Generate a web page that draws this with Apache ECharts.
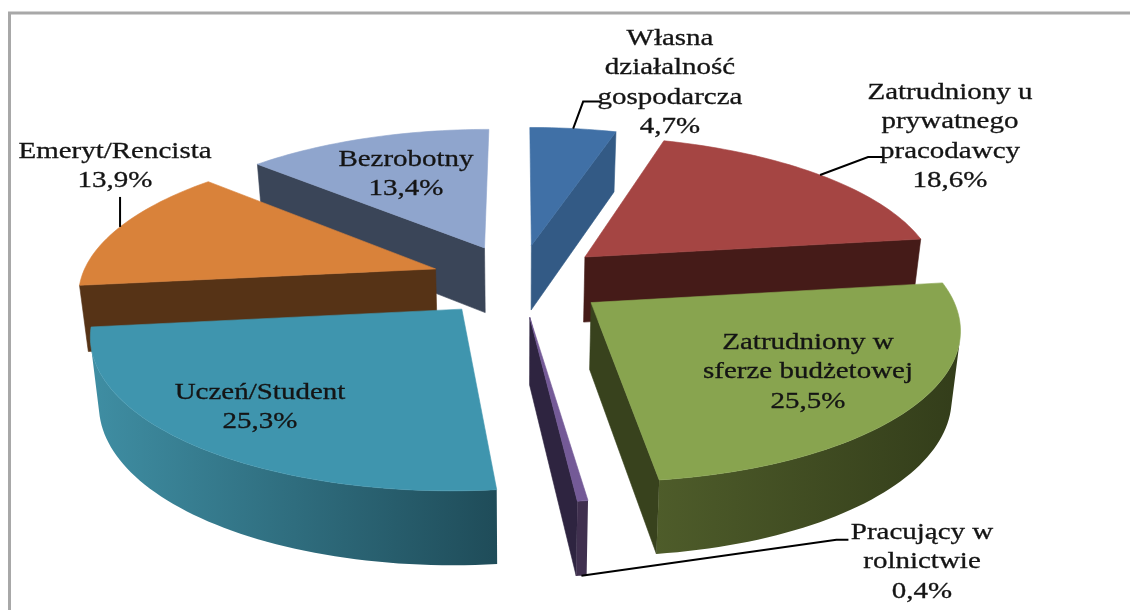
<!DOCTYPE html>
<html><head><meta charset="utf-8">
<style>html,body{margin:0;padding:0;background:#fff}#c{width:1130px;height:610px}</style>
<script src="https://cdn.jsdelivr.net/npm/echarts@6/dist/echarts.min.js"></script>
</head><body><div id="c"></div>
<script>
// ---- data ----
const categories = ['Własna\ndziałalność\ngospodarcza','Zatrudniony u\nprywatnego\npracodawcy','Zatrudniony w\nsferze budżetowej','Pracujący w\nrolnictwie','Uczeń/Student','Emeryt/Rencista','Bezrobotny'];
const values = [4.7,18.6,25.5,0.4,25.3,13.9,13.4];

// ---- styling ----
const topColors  = ['#4070a6','#a54543','#88a44f','#745a97','#3f95ae','#d9823a','#8fa5cd'];
const sideColors = ['#335a85','#451b18','#38421d','#2e2440','#235260','#563316','#3a4558'];
const wallStops  = [['#335a85','#335a85'],['#451b18','#451b18'],['#4e5c2a','#333d1a'],['#40304f','#40304f'],['#3f8ea3','#1f4c59'],['#563316','#563316'],['#3a4558','#3a4558']];
const depthOrder = [0,6,1,5,3,2,4];
// label layout: centre x, first line y
const labelLayout = [[670,39],[950,93],[808,343],[922,533],[260,393],[115,152],[406,160]];
// leader: [slice index, fraction along rim, plane 0 top / 1 bottom, offsets of following vertices]
const leaders = [
  [0,0.5,0,[[10,-27],[28,-27]]],
  [1,0.5,0,[[48,-18],[64,-18]]],
  [3,0.5,1,[[255,-36],[267,-36]]],
  [5,0.5,0,[[0,-30]]]
];

// ---- projection ----
const CX=519, CY=280, A=355, B=145, P=0.149, EXPL=0.25;
const DEPTH=66, DK=1.04, BX=0.98, LH=29.3, FS=23, SX=1.26, MIN_FACE=800;
function proj(X,Y,plane){
  const w=1-P*Y, sx=A*X/w, sy=B*Y/w;
  if(!plane) return [CX+sx,CY+sy];
  return [CX+sx*BX,CY+sy*DK+DEPTH];
}
const total=values.reduce((a,b)=>a+b,0);
let run=0;
const rows=values.map(v=>{const s=run/total;run+=v;return [v,s,run/total];});
function rimPoint(t0,t1,f,plane){
  const mid=(t0+t1)*Math.PI, th=(t0+(t1-t0)*f)*2*Math.PI;
  return proj(EXPL*Math.sin(mid)+Math.sin(th),-EXPL*Math.cos(mid)-Math.cos(th),plane);
}
function apex(t0,t1,plane){
  const mid=(t0+t1)*Math.PI;
  return proj(EXPL*Math.sin(mid),-EXPL*Math.cos(mid),plane);
}
function area(q){let s=0;for(let i=0;i<q.length;i++){const a=q[i],b=q[(i+1)%q.length];s+=a[0]*b[1]-b[0]*a[1];}return s/2;}
function poly(points,fill,z2){return {type:'polygon',z2,shape:{points},style:{fill,stroke:fill,lineWidth:0.6}};}

function renderItem(params,api){
  const i=params.dataIndex, t0=api.value(1), t1=api.value(2), v=api.value(0);
  const rank=depthOrder.indexOf(i)*10, n=Math.max(4,Math.ceil((t1-t0)*240));
  const top=[],bot=[];
  for(let k=0;k<=n;k++){top.push(rimPoint(t0,t1,k/n,0));bot.push(rimPoint(t0,t1,k/n,1));}
  const aT=apex(t0,t1,0), aB=apex(t0,t1,1), ch=[];
  const startF=[aT,top[0],bot[0],aB], endF=[aT,top[n],bot[n],aB];
  if(area(startF)<-MIN_FACE) ch.push(poly(startF,sideColors[i],rank));
  if(area(endF)>MIN_FACE) ch.push(poly(endF,sideColors[i],rank));
  let first=-1,last=-1;
  for(let k=0;k<n;k++){
    if(area([top[k],top[k+1],bot[k+1],bot[k]])<0){if(first<0)first=k;last=k+1;}
  }
  if(first>=0){
    const pts=top.slice(first,last+1).concat(bot.slice(first,last+1).reverse());
    const xs=pts.map(p=>p[0]);
    const x0=Math.min.apply(null,xs),x1=Math.max.apply(null,xs),c=wallStops[i];
    const g=new echarts.graphic.LinearGradient(x0,0,x1,0,[{offset:0,color:c[0]},{offset:1,color:c[1]}],true);
    ch.push({type:'polygon',z2:rank+1,shape:{points:pts},style:{fill:g}});
  }
  ch.push(poly([aT].concat(top),topColors[i],rank+2));
  // text
  const lines=categories[i].split('\n').concat([v.toFixed(1).replace('.',',')+'%']);
  lines.forEach((line,k)=>ch.push({type:'text',z2:200,x:labelLayout[i][0],y:labelLayout[i][1]+k*LH,scaleX:SX,
    style:{text:line,fontFamily:'Liberation Serif',fontSize:FS,fill:'#141414',stroke:'#141414',lineWidth:0.3,align:'center',verticalAlign:'middle'}}));
  // leader
  leaders.filter(l=>l[0]===i).forEach(l=>{
    const s=rimPoint(t0,t1,l[1],l[2]);
    ch.push({type:'polyline',z2:150,shape:{points:[s].concat(l[3].map(o=>[s[0]+o[0],s[1]+o[1]]))},style:{fill:'none',stroke:'#000',lineWidth:2}});
  });
  return {type:'group',children:ch};
}
const chart=echarts.init(document.getElementById('c'),null,{renderer:'canvas'});
chart.setOption({
  animation:false,backgroundColor:'#fff',
  graphic:[{type:'rect',silent:true,shape:{x:9.5,y:13,width:1300,height:700},style:{fill:'none',stroke:'#a8a8a8',lineWidth:3}}],
  series:[{type:'custom',coordinateSystem:'none',renderItem,data:rows,silent:true,clip:false}]
});
</script></body></html>
